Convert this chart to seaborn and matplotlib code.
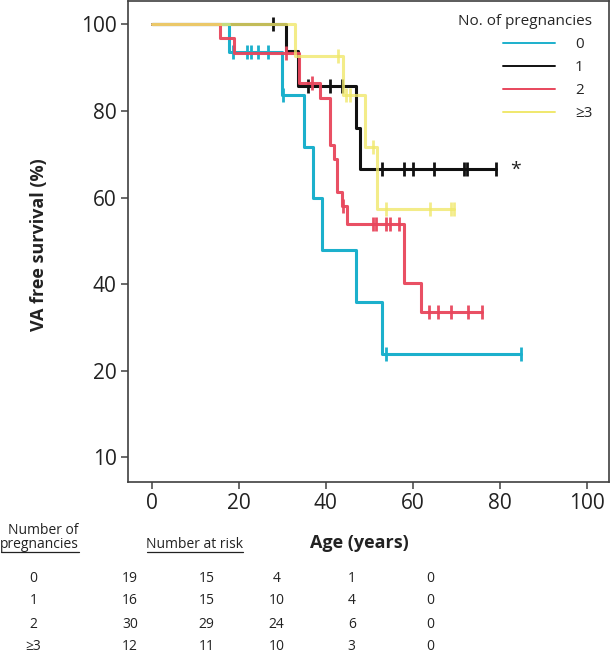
import numpy as np
import pandas as pd
import matplotlib.pyplot as plt
import seaborn as sns
from matplotlib.lines import Line2D

# step data: age at each drop and survival level after it
groups = ["0", "1", "2", "≥3"]
colors = ["#1cb0cc", "#111111", "#e8465c", "#f0e86c"]

times_0 = [0, 17.8, 29.9, 34.9, 37.0, 39.1, 47.0, 52.9]
surv_0 = [100, 93.6, 83.6, 71.8, 60.0, 47.8, 35.9, 23.8]
cens_0 = [18.7, 21.9, 22.8, 24.4, 26.7, 30.3, 53.9, 84.9]

times_1 = [0, 30.9, 33.7, 47.0, 47.9]
surv_1 = [100, 93.75, 85.8, 76.0, 66.6]
cens_1 = [27.9, 36.0, 40.9, 43.8, 52.9, 58.0, 60.0, 64.9, 71.8, 72.4, 79.2]

times_2 = [0, 15.7, 18.9, 33.9, 38.8, 41.0, 41.8, 42.7, 43.8, 44.8, 58.0, 61.8]
surv_2 = [100, 96.9, 93.3, 86.5, 83.1, 72.1, 68.9, 61.2, 58.0, 53.8, 40.3, 33.5]
cens_2 = [30.8, 36.8, 43.9, 50.8, 51.6, 53.9, 54.8, 56.9, 63.8, 65.7, 68.9, 72.8, 75.9]

times_3 = [0, 33.0, 44.0, 49.0, 51.9]
surv_3 = [100, 92.8, 83.7, 71.6, 57.4]
cens_3 = [42.9, 44.6, 45.6, 50.9, 53.9, 64.0, 68.7, 69.5]

# number at risk table
risk_groups = ["0", "1", "2", "≥3"]
risk_0 = [19, 15, 4, 1, 0]
risk_1 = [16, 15, 10, 4, 0]
risk_2 = [30, 29, 24, 6, 0]
risk_3 = [12, 11, 10, 3, 0]

x_ticks = [0, 20, 40, 60, 80, 100]
y_ticks = [0, 20, 40, 60, 80, 100]
y_ticklabels = ["10", "20", "40", "60", "80", "100"]

sns.set_style("white")
plt.rcParams["font.family"] = ["Open Sans", "DejaVu Sans"]

W, H = 612, 656
fig = plt.figure(figsize=(W / 100, H / 100), dpi=100)
ax = fig.add_axes([127.7 / W, 1 - 481.7 / H, (609 - 127.7) / W, (481.7 - 1) / H])


def level_at(times, surv, t):
    idx = np.searchsorted(times, t, side="right") - 1
    return surv[idx]


all_times = [times_0, times_1, times_2, times_3]
all_surv = [surv_0, surv_1, surv_2, surv_3]
all_cens = [cens_0, cens_1, cens_2, cens_3]
draw_order = [1, 0, 2, 3]
zorders = {0: 3, 1: 2, 2: 4, 3: 5}
alphas = {0: 1.0, 1: 1.0, 2: 0.95, 3: 0.8}

for i in draw_order:
    t = list(all_times[i]) + [max(all_cens[i])]
    s = list(all_surv[i]) + [all_surv[i][-1]]
    d = pd.DataFrame({"age": t, "surv": s})
    sns.lineplot(data=d, x="age", y="surv", ax=ax, color=colors[i],
                 drawstyle="steps-post", estimator=None, sort=False,
                 linewidth=2.2, alpha=alphas[i], zorder=zorders[i])
    c = pd.DataFrame({"age": all_cens[i],
                      "surv": [level_at(all_times[i], all_surv[i], x) for x in all_cens[i]]})
    sns.scatterplot(data=c, x="age", y="surv", ax=ax, color=colors[i],
                    marker="|", s=90, linewidth=2.0, alpha=alphas[i],
                    zorder=zorders[i] + 0.5)

ax.set_xlim(-5.5, 105.1)
ax.set_ylim(-5.6, 105.4)
ax.set_xticks(x_ticks)
ax.set_yticks(y_ticks)
ax.set_yticklabels(y_ticklabels)
ax.set_xlabel("")
ax.set_ylabel("")
ax.tick_params(axis="both", which="both", direction="out", length=5, width=1.1,
               color="#404040", labelsize=15, labelcolor="#222222", pad=3,
               bottom=True, left=True)
for sp in ax.spines.values():
    sp.set_visible(True)
    sp.set_color("#404040")
    sp.set_linewidth(1.2)

ax.text(82.3, 66.4, "*", fontsize=14, ha="left", va="center", color="#222222")

handles = [Line2D([], [], color=colors[i], linewidth=1.4) for i in range(4)]
leg = ax.legend(handles, groups, title="No. of pregnancies", loc="upper right",
                bbox_to_anchor=(0.965, 0.972), frameon=False, fontsize=11,
                title_fontsize=11, handlelength=3.4, handletextpad=1.3,
                labelspacing=0.52, borderpad=0, borderaxespad=0)
leg._legend_box.align = "right"

# axis titles
fig.text(39 / W, 1 - 245 / H, "VA free survival (%)", rotation=90, ha="center",
         va="center", fontsize=13, fontweight="bold", color="#222222")
fig.text(359 / W, 1 - 543 / H, "Age (years)", ha="center", va="center",
         fontsize=13, fontweight="bold", color="#222222")

# number at risk table
fig.text(43.5 / W, 1 - 530 / H, "Number of", ha="center", va="center", fontsize=10, color="#222222")
fig.text(39.5 / W, 1 - 545 / H, "pregnancies", ha="center", va="center", fontsize=10, color="#222222")
fig.text(195 / W, 1 - 545 / H, "Number at risk", ha="center", va="center", fontsize=10, color="#222222")
fig.add_artist(Line2D([0.5 / W, 79 / W], [1 - 552 / H, 1 - 552 / H], color="#222222", linewidth=0.9))
fig.add_artist(Line2D([147 / W, 243 / W], [1 - 552 / H, 1 - 552 / H], color="#222222", linewidth=0.9))

col_x = [130, 206.7, 276.7, 351.7, 430]
row_y = [578, 601, 624, 646.5]
for r, (g, vals) in enumerate(zip(risk_groups, [risk_0, risk_1, risk_2, risk_3])):
    fig.text(33.5 / W, 1 - row_y[r] / H, g, ha="center", va="center", fontsize=10, color="#222222")
    for cx, v in zip(col_x, vals):
        fig.text(cx / W, 1 - row_y[r] / H, str(v), ha="center", va="center", fontsize=10, color="#222222")

fig.savefig("out.png", dpi=100)
